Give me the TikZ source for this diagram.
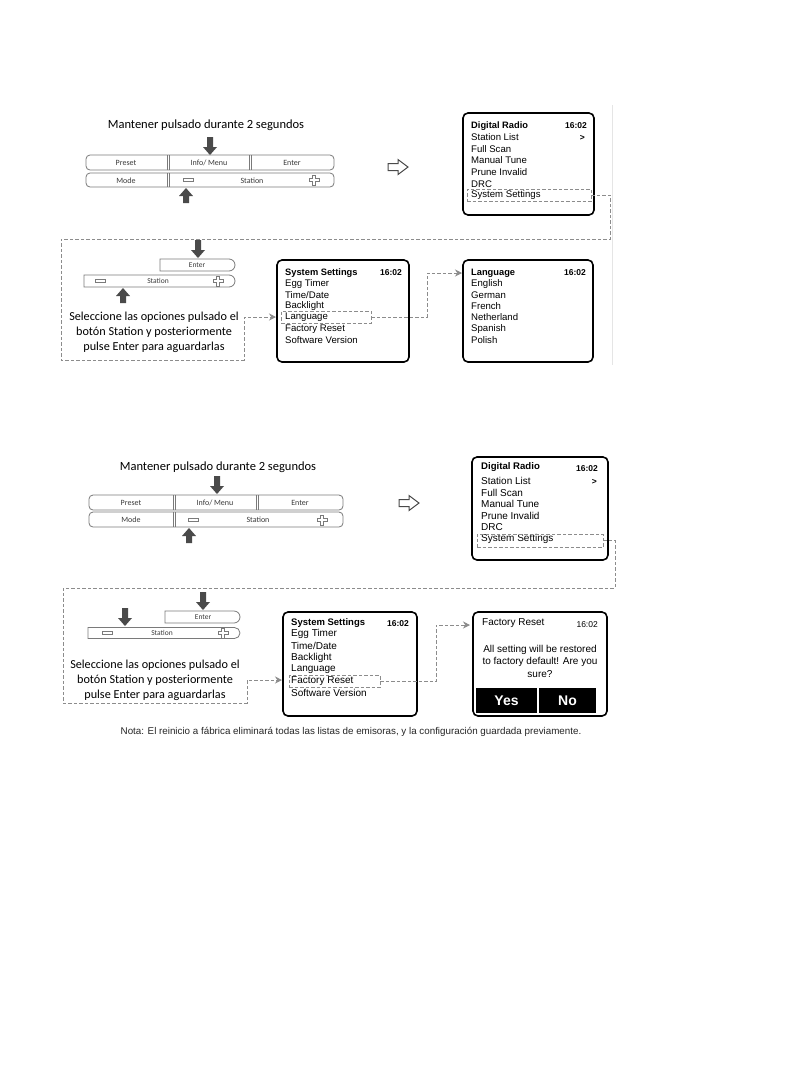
\documentclass[tikz,border=0pt]{standalone}
\usepackage{fontspec}
\setmainfont{Carlito}
\newfontfamily\arial{Liberation Sans}
\usetikzlibrary{arrows.meta,shapes.misc}
\definecolor{arrowc}{HTML}{4A4A4A}
\definecolor{dashc}{HTML}{8C8C8C}
\definecolor{btnc}{HTML}{7A7A7A}
\definecolor{btntxt}{HTML}{3A3A3A}
\begin{document}
\begin{tikzpicture}[x=1pt,y=-1pt,
  scrbox/.style={draw=black,line width=1.6pt,rounded corners=5pt},
  scr/.style={anchor=west,inner sep=0pt,font=\arial\fontsize{9.6}{10}\selectfont},
  scrb/.style={scr,font=\arial\bfseries\fontsize{9.3}{10}\selectfont},
  scrl/.style={scr,font=\arial\fontsize{10}{10}\selectfont},
  scrt/.style={anchor=east,inner sep=0pt,font=\arial\bfseries\fontsize{8.5}{10}\selectfont},
  hlbox/.style={draw=dashc,dash pattern=on 3.5pt off 2pt,line width=0.8pt,inner sep=0pt},
  dashconn/.style={draw=dashc,dash pattern=on 3.5pt off 2pt,line width=0.8pt,-{Stealth[length=7pt,width=7pt]}},
  btnrow/.style={draw=btnc,line width=0.8pt,rounded corners=4pt,inner sep=0pt},
  btnlbl/.style={inner sep=0pt,text=btntxt,font=\fontsize{8}{9}\selectfont},
  rbar/.style={draw=btnc,line width=0.8pt,rounded rectangle,rounded rectangle left arc=none,inner sep=0pt},
  head/.style={inner sep=0pt,font=\fontsize{12.5}{14}\selectfont},
  instr/.style={inner sep=0pt,font=\fontsize{12.2}{14}\selectfont},
  darrow/.pic={\fill[arrowc] (0,0) -- (-7,-8) -- (-3,-8) -- (-3,-18) -- (3,-18) -- (3,-8) -- (7,-8) -- cycle;},
  uarrow/.pic={\fill[arrowc] (0,0) -- (-7,8) -- (-3,8) -- (-3,15) -- (3,15) -- (3,8) -- (7,8) -- cycle;},
  minus/.pic={\draw[btnc,line width=0.7pt] (-5,-1.5) rectangle (5,1.5);},
  plus/.pic={\draw[btnc,line width=0.7pt] (-1.8,-5) -- (1.8,-5) -- (1.8,-1.8) -- (5,-1.8) -- (5,1.8) -- (1.8,1.8) -- (1.8,5) -- (-1.8,5) -- (-1.8,1.8) -- (-5,1.8) -- (-5,-1.8) -- (-1.8,-1.8) -- cycle;},
  hollow/.pic={\draw[arrowc,line width=1pt,line join=miter] (-10,-3.5) -- (0,-3.5) -- (0,-7.5) -- (10,0) -- (0,7.5) -- (0,3.5) -- (-10,3.5) -- cycle;}
]
\useasboundingbox[fill=white] (0,0) rectangle (794,1077);

% faint page edge
\draw[gray!20,line width=0.8pt] (612,105) -- (612,365);

%================ TOP SECTION ================
\node[head] (t1head) at (206,125) {Mantener pulsado durante 2 segundos};
\node[btnrow,minimum width=248pt,minimum height=15pt] (t1row1) at (210,162.5) {};
\node[btnrow,minimum width=248pt,minimum height=14pt] (t1row2) at (210,180) {};
\foreach \x in {167,169} {\draw[btnc,line width=0.6pt] (\x,155) -- (\x,170); \draw[btnc,line width=0.6pt] (\x,173) -- (\x,187);}
\foreach \x in {249,251} {\draw[btnc,line width=0.6pt] (\x,155) -- (\x,170);}
\node[btnlbl] (t1preset) at (126,163) {Preset};
\node[btnlbl] (t1info) at (209,163) {Info/ Menu};
\node[btnlbl] (t1enter) at (292,163) {Enter};
\node[btnlbl] (t1mode) at (126,180.5) {Mode};
\node[btnlbl] (t1station) at (252,180.5) {Station};
\pic at (188,180) {minus};
\pic at (314,180) {plus};
\pic at (210,155) {darrow};
\pic at (186,188) {uarrow};
\pic at (398,167) {hollow};

% Screen 1
\draw[scrbox] (463,113) rectangle (594,215);
\node[scrb] (s1l1) at (471,126) {Digital Radio};
\node[scrt] (s1t) at (587,126) {16:02};
\node[scr] (s1l2) at (471,137.5) {Station List};
\node[scrt] (s1gt) at (585,138) {>};
\node[scr] (s1l3) at (471,149) {Full Scan};
\node[scr] (s1l4) at (471,160.5) {Manual Tune};
\node[scr] (s1l5) at (471,172) {Prune Invalid};
\node[scr] (s1l6) at (471,184) {DRC};
\node[scr] (s1l7) at (471,195) {System Settings};
\node[hlbox,minimum width=124pt,minimum height=12pt] (hl1) at (529,195) {};

% middle-left panel
\node[rbar,minimum width=75pt,minimum height=12pt] (t2enterbtn) at (197.5,265) {};
\node[btnlbl,font=\fontsize{7.5}{9}\selectfont] (t2enter) at (197,265) {Enter};
\node[rbar,minimum width=151pt,minimum height=12pt] (t2stbar) at (159.5,281) {};
\node[btnlbl,font=\fontsize{7.5}{9}\selectfont] (t2station) at (158,281) {Station};
\pic at (100,281) {minus};
\pic at (218,281) {plus};
\pic at (198,258) {darrow};
\pic at (123,288) {uarrow};
\node[instr] (t2i1) at (154,317) {Seleccione las opciones pulsado el};
\node[instr] (t2i2) at (154,332) {botón Station y posteriormente};
\node[instr] (t2i3) at (154,347) {pulse Enter para aguardarlas};

% Screen 2
\draw[scrbox] (277,260) rectangle (409,362);
\node[scrb] (s2l1) at (285,273) {System Settings};
\node[scrt] (s2t) at (402,273) {16:02};
\node[scr] (s2l2) at (285,284) {Egg Timer};
\node[scr] (s2l3) at (285,295) {Time/Date};
\node[scr] (s2l4) at (285,306.5) {Backlight};
\node[scr] (s2l5) at (285,317.5) {Language};
\node[scr] (s2l6) at (285,329) {Factory Reset};
\node[scr] (s2l7) at (285,340) {Software Version};
\node[hlbox,minimum width=90pt,minimum height=12pt] (hl2) at (326,317) {};

% Screen 3
\draw[scrbox] (463,260) rectangle (593,362);
\node[scrb] (s3l1) at (471,273) {Language};
\node[scrt] (s3t) at (586,273) {16:02};
\node[scr] (s3l2) at (471,284) {English};
\node[scr] (s3l3) at (471,295) {German};
\node[scr] (s3l4) at (471,306.5) {French};
\node[scr] (s3l5) at (471,317.5) {Netherland};
\node[scr] (s3l6) at (471,329) {Spanish};
\node[scr] (s3l7) at (471,340) {Polish};

% connectors top
\coordinate (c1end) at (276,317);
\draw[dashconn] (hl1.east) -- (610,195) -- (610,239) -- (61,239) -- (61,360) -- (244,360) -- (244,317) -- (c1end);
\coordinate (c2end) at (462,273);
\draw[dashconn] (hl2.east) -- (427,317) -- (427,273) -- (c2end);

%================ BOTTOM SECTION ================
\node[head] (b1head) at (218,467) {Mantener pulsado durante 2 segundos};
\node[btnrow,minimum width=254pt,minimum height=15pt] (b1row1) at (216,502.5) {};
\node[btnrow,minimum width=254pt,minimum height=15pt] (b1row2) at (216,519.5) {};
\foreach \x in {173,175} {\draw[btnc,line width=0.6pt] (\x,495) -- (\x,510); \draw[btnc,line width=0.6pt] (\x,512) -- (\x,527);}
\foreach \x in {256,258} {\draw[btnc,line width=0.6pt] (\x,495) -- (\x,510);}
\node[btnlbl] (b1preset) at (131,503) {Preset};
\node[btnlbl] (b1info) at (215,503) {Info/ Menu};
\node[btnlbl] (b1enter) at (300,503) {Enter};
\node[btnlbl] (b1mode) at (131,520) {Mode};
\node[btnlbl] (b1station) at (258,520) {Station};
\pic at (193,520) {minus};
\pic at (322,520) {plus};
\pic at (217,494) {darrow};
\pic at (189,528) {uarrow};
\pic at (409,503) {hollow};

% Screen 4
\draw[scrbox] (472,457) rectangle (608,560);
\node[scrb,font=\arial\bfseries\fontsize{9.6}{10}\selectfont] (s4l1) at (481,467.5) {Digital Radio};
\node[scrt] (s4t) at (598,469) {16:02};
\node[scrl] (s4l2) at (481,481) {Station List};
\node[scrt] (s4gt) at (597,481.5) {>};
\node[scrl] (s4l3) at (481,493) {Full Scan};
\node[scrl] (s4l4) at (481,504) {Manual Tune};
\node[scrl] (s4l5) at (481,516) {Prune Invalid};
\node[scrl] (s4l6) at (481,527) {DRC};
\node[scrl] (s4l7) at (481,539) {System Settings};
\node[hlbox,minimum width=126pt,minimum height=13pt] (hl3) at (540,540.5) {};

% bottom middle-left panel
\node[rbar,minimum width=75pt,minimum height=12pt] (b2enterbtn) at (202.5,617) {};
\node[btnlbl,font=\fontsize{7.5}{9}\selectfont] (b2enter) at (203,617) {Enter};
\node[rbar,minimum width=152pt,minimum height=11pt] (b2stbar) at (164,633) {};
\node[btnlbl,font=\fontsize{7.5}{9}\selectfont] (b2station) at (162,633) {Station};
\pic at (107,633) {minus};
\pic at (223,633) {plus};
\pic at (203,610) {darrow};
\pic at (125,626) {darrow};
\node[instr] (b2i1) at (155,665) {Seleccione las opciones pulsado el};
\node[instr] (b2i2) at (155,680) {botón Station y posteriormente};
\node[instr] (b2i3) at (155,695) {pulse Enter para aguardarlas};

% Screen 5
\draw[scrbox] (283,612) rectangle (417,716);
\node[scrb,font=\arial\bfseries\fontsize{9.5}{10}\selectfont] (s5l1) at (291,623) {System Settings};
\node[scrt] (s5t) at (409,624) {16:02};
\node[scrl] (s5l2) at (291,634) {Egg Timer};
\node[scrl] (s5l3) at (291,646) {Time/Date};
\node[scrl] (s5l4) at (291,658) {Backlight};
\node[scrl] (s5l5) at (291,669) {Language};
\node[scrl] (s5l6) at (291,681) {Factory Reset};
\node[scrl] (s5l7) at (291,693) {Software Version};
\node[hlbox,minimum width=91pt,minimum height=12pt] (hl4) at (334.5,681.5) {};

% Screen 6
\draw[scrbox] (473,612) rectangle (607,716);
\node[scr,font=\arial\fontsize{10}{11}\selectfont] (s6l1) at (482,623) {Factory Reset};
\node[scrt,font=\arial\fontsize{8.5}{10}\selectfont] (s6t) at (598,625) {16:02};
\node[inner sep=0pt,font=\arial\fontsize{10}{11}\selectfont] (s6m1) at (540,650) {All setting will be restored};
\node[inner sep=0pt,font=\arial\fontsize{10}{11}\selectfont] (s6m2) at (540,662) {to factory default! Are you};
\node[inner sep=0pt,font=\arial\fontsize{10}{11}\selectfont] (s6m3) at (540,674) {sure?};
\node[fill=black,minimum width=61pt,minimum height=25pt,inner sep=0pt,text=white,font=\arial\bfseries\fontsize{14}{16}\selectfont] (yes) at (506.5,700.5) {Yes};
\node[fill=black,minimum width=57pt,minimum height=25pt,inner sep=0pt,text=white,font=\arial\bfseries\fontsize{14}{16}\selectfont] (no) at (567.5,700.5) {No};

% connectors bottom
\coordinate (c3end) at (282,680);
\draw[dashconn] (hl3.east) -- (615,540.5) -- (615,588) -- (63,588) -- (63,703) -- (247,703) -- (247,680) -- (c3end);
\coordinate (c4end) at (470,625);
\draw[dashconn] (hl4.east) -- (436,681.5) -- (436,625) -- (c4end);

% note
\node[inner sep=0pt,font=\arial\fontsize{9.8}{11}\selectfont,text=black!85] (note) at (351,732) {Nota: El reinicio a fábrica eliminará todas las listas de emisoras, y la configuración guardada previamente.};
\end{tikzpicture}
\end{document}
